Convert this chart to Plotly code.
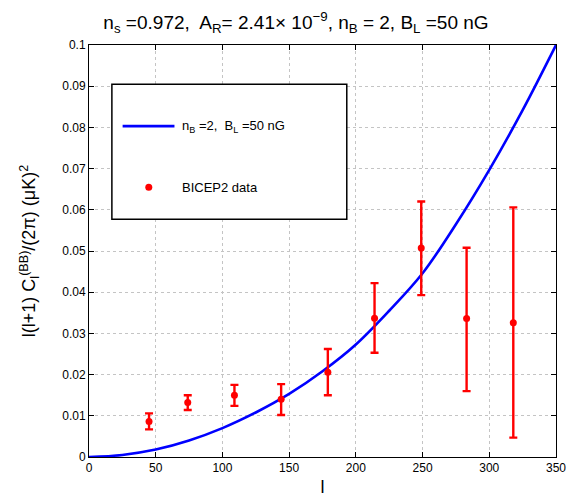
import plotly.graph_objects as go

# Theory curve
curve_l = [0, 25, 50, 75, 100, 125, 150, 175, 200, 225, 250, 275, 300, 325, 350]
curve_v = [0.0, 0.0005, 0.0018, 0.0040, 0.0070, 0.0108, 0.0153, 0.0208, 0.0273,
           0.0355, 0.0446, 0.0565, 0.0697, 0.0842, 0.1000]

# BICEP2 data
data_l = [45, 74, 109, 144, 179, 214, 249, 283, 318]
data_v = [0.0086, 0.0132, 0.0150, 0.0140, 0.0206, 0.0337, 0.0507, 0.0336, 0.0326]
err_hi = [0.0106, 0.0150, 0.0175, 0.0177, 0.0262, 0.0422, 0.0620, 0.0508, 0.0606]
err_lo = [0.0067, 0.0114, 0.0124, 0.0102, 0.0150, 0.0253, 0.0393, 0.0160, 0.0047]

x_ticks = [0, 50, 100, 150, 200, 250, 300, 350]
y_ticks = [0, 0.01, 0.02, 0.03, 0.04, 0.05, 0.06, 0.07, 0.08, 0.09, 0.1]
y_tick_text = ["0", "0.01", "0.02", "0.03", "0.04", "0.05", "0.06", "0.07", "0.08", "0.09", "0.1"]

FONT = "Liberation Sans, Arial, Helvetica, sans-serif"

fig = go.Figure()
fig.add_trace(go.Scatter(
    x=curve_l, y=curve_v, mode="lines", line=dict(color="#0000ff", width=2.6, shape="spline"),
    showlegend=False, hoverinfo="skip"))
fig.add_trace(go.Scatter(
    x=data_l, y=data_v, mode="markers",
    marker=dict(color="#ff0000", size=7),
    error_y=dict(type="data", symmetric=False,
                 array=[h - v for h, v in zip(err_hi, data_v)],
                 arrayminus=[v - lo for lo, v in zip(err_lo, data_v)],
                 color="#ff0000", thickness=2.4, width=4),
    showlegend=False))

axis_common = dict(
    showline=True, linecolor="black", linewidth=1, mirror="ticks",
    ticks="inside", ticklen=5, tickcolor="black", tickwidth=1,
    showgrid=True, gridcolor="#c4c4c4", gridwidth=1, griddash="dot",
    zeroline=False, automargin=False,
    tickfont=dict(family=FONT, size=12, color="black"),
)

fig.update_xaxes(range=[0, 350], tickvals=x_ticks, **axis_common,
                 title=dict(text="l", font=dict(family=FONT, size=18, color="black"), standoff=5))
fig.update_yaxes(range=[0, 0.1], tickvals=y_ticks, ticktext=y_tick_text, **axis_common,
                 title=dict(text="l(l+1) C<sub>l</sub><sup>(BB)</sup>/(2π) (μK)<sup>2</sup>",
                            font=dict(family=FONT, size=18, color="black"), standoff=21))

# Legend box drawn manually (MATLAB-style)
shapes = [
    dict(type="rect", xref="paper", yref="paper", x0=0.049, x1=0.552, y0=0.577, y1=0.905,
         line=dict(color="black", width=1.5), fillcolor="white", layer="above"),
    dict(type="line", xref="paper", yref="paper", x0=0.072, x1=0.183, y0=0.803, y1=0.803,
         line=dict(color="#0000ff", width=2.6), layer="above"),
    dict(type="circle", xref="paper", yref="paper", x0=0.128 - 0.0075, x1=0.128 + 0.0075,
         y0=0.655 - 0.0085, y1=0.655 + 0.0085,
         line=dict(color="#ff0000", width=0), fillcolor="#ff0000", layer="above"),
]
annotations = [
    dict(xref="paper", yref="paper", x=0.195, y=0.803, xanchor="left", yanchor="middle",
         text="n<sub>B</sub> =2,  B<sub>L</sub> =50 nG", showarrow=False,
         font=dict(family=FONT, size=13, color="black")),
    dict(xref="paper", yref="paper", x=0.195, y=0.655, xanchor="left", yanchor="middle",
         text="BICEP2 data", showarrow=False,
         font=dict(family=FONT, size=13, color="black")),
]

fig.update_layout(
    width=576, height=495,
    margin=dict(l=81, r=28, t=37, b=46, autoexpand=False),
    paper_bgcolor="white", plot_bgcolor="white",
    title=dict(text="n<sub>s</sub> =0.972,  A<sub>R</sub>= 2.41× 10<sup>−9</sup>, n<sub>B</sub> = 2, B<sub>L</sub> =50 nG",
               x=0.5, xanchor="center", y=0.972, yanchor="middle", automargin=False,
               font=dict(family=FONT, size=19, color="black")),
    shapes=shapes, annotations=annotations,
    showlegend=False,
)

fig.write_html("out.html")
